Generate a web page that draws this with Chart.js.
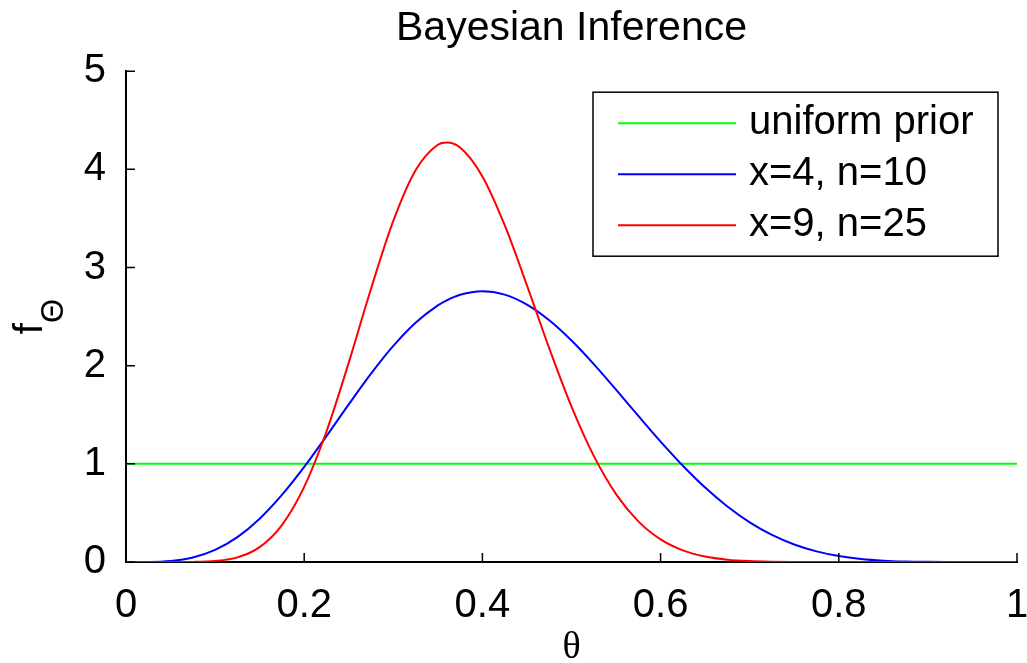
<!DOCTYPE html>
<html lang="en">
<head>
  <meta charset="UTF-8">
  <title>Bayesian Inference</title>
  <script src="https://cdn.jsdelivr.net/npm/chart.js"></script>
  <style>
    body { margin: 0; background: #fff; }
    canvas { display: block; }
  </style>
</head>
<body>
  <canvas id="grafico" width="1027" height="663"></canvas>

  <script>
    // valores
    const theta = [0, 0.025, 0.05, 0.075, 0.1, 0.125, 0.15, 0.175, 0.2, 0.225, 0.25, 0.275, 0.3, 0.325, 0.35, 0.36,
                   0.375, 0.4, 0.425, 0.45, 0.475, 0.5, 0.525, 0.55, 0.575, 0.6, 0.625, 0.65, 0.675, 0.7, 0.725,
                   0.75, 0.775, 0.8, 0.825, 0.85, 0.875, 0.9, 0.925, 0.95, 0.975, 1];
    // x=4, n=10
    const posterior1 = [0, 0.0008, 0.0106, 0.0458, 0.1228, 0.2531, 0.4411, 0.6831, 0.9689, 1.2828, 1.6060, 1.9185,
                        2.2013, 2.4376, 2.6144, 2.6663, 2.7228, 2.7590, 2.7238, 2.6220, 2.4623, 2.2559, 2.0156, 1.7552,
                        1.4881, 1.2262, 0.9802, 0.7580, 0.5651, 0.4043, 0.2760, 0.1784, 0.1081, 0.0606, 0.0307,
                        0.0137, 0.0052, 0.0015, 0.0003, 0, 0, 0];
    // x=9, n=25
    const posterior2 = [0, 0, 0, 0.0011, 0.0098, 0.0467, 0.1516, 0.3766, 0.7655, 1.3296, 2.0309, 2.7838, 3.4745,
                        3.9907, 4.2507, 4.2740, 4.2228, 3.9282, 3.4310, 2.8181, 2.1779, 1.5830, 1.0809, 0.6917,
                        0.4135, 0.2299, 0.1182, 0.0558, 0.0239, 0.0092, 0.0031, 0.0009, 0.0002, 0, 0, 0, 0, 0, 0,
                        0, 0, 0];
    const thetaPrior = [0, 1];
    const prior = [1, 1];

    const etiquetas = ['uniform prior', 'x=4, n=10', 'x=9, n=25'];
    const colores = ['#00ff00', '#0000ff', '#ff0000'];
    const ticksX = [0, 0.2, 0.4, 0.6, 0.8, 1];
    const textosX = ['0', '0.2', '0.4', '0.6', '0.8', '1'];
    const ticksY = [0, 1, 2, 3, 4, 5];
    const textosY = ['0', '1', '2', '3', '4', '5'];

    const fuente = '"Liberation Sans", Arial, Helvetica, sans-serif';

    function puntos(xs, ys) {
      return xs.map((x, i) => ({ x: x, y: ys[i] }));
    }

    // marcas de los ejes hacia dentro (estilo matlab)
    const marcas = {
      id: 'marcas',
      afterDraw(chart) {
        const ctx = chart.ctx;
        const a = chart.chartArea;
        const sx = chart.scales.x, sy = chart.scales.y;
        ctx.save();
        ctx.strokeStyle = '#000';
        ctx.lineWidth = 1.5;
        ctx.beginPath();
        ticksX.forEach(v => {
          const px = sx.getPixelForValue(v);
          ctx.moveTo(px, a.bottom);
          ctx.lineTo(px, a.bottom - 9);
        });
        ticksY.forEach(v => {
          const py = sy.getPixelForValue(v);
          ctx.moveTo(a.left, py);
          ctx.lineTo(a.left + 9, py);
        });
        ctx.stroke();
        ctx.restore();
      }
    };

    // leyenda con recuadro
    const leyenda = {
      id: 'leyenda',
      afterDraw(chart) {
        const ctx = chart.ctx;
        const a = chart.chartArea;
        const ancho = 405, alto = 164;
        const x0 = a.right - 19 - ancho;
        const y0 = a.top + 21;
        ctx.save();
        ctx.fillStyle = '#fff';
        ctx.fillRect(x0, y0, ancho, alto);
        ctx.strokeStyle = '#000';
        ctx.lineWidth = 1.5;
        ctx.strokeRect(x0, y0, ancho, alto);
        ctx.font = '40px ' + fuente;
        ctx.textBaseline = 'middle';
        ctx.textAlign = 'left';
        chart.data.datasets.forEach((ds, i) => {
          const y = y0 + 31 + i * 51;
          ctx.strokeStyle = ds.borderColor;
          ctx.lineWidth = 2;
          ctx.beginPath();
          ctx.moveTo(x0 + 25, y);
          ctx.lineTo(x0 + 143, y);
          ctx.stroke();
          ctx.fillStyle = '#000';
          ctx.fillText(ds.label, x0 + 156, y);
        });
        ctx.restore();
      }
    };

    // titulo del eje y: f con subindice theta mayuscula
    const etiquetaY = {
      id: 'etiquetaY',
      afterDraw(chart) {
        const ctx = chart.ctx;
        const a = chart.chartArea;
        ctx.save();
        ctx.fillStyle = '#000';
        ctx.textBaseline = 'alphabetic';
        ctx.textAlign = 'left';
        ctx.font = '40px ' + fuente;
        const wf = ctx.measureText('f').width;
        ctx.font = '31px ' + fuente;
        const ws = ctx.measureText('Θ').width;
        const centro = (a.top + a.bottom) / 2;
        ctx.translate(42, centro + (wf + ws) / 2);
        ctx.rotate(-Math.PI / 2);
        ctx.font = '40px ' + fuente;
        ctx.fillText('f', 0, 0);
        ctx.font = '31px ' + fuente;
        ctx.fillText('Θ', wf, 21);
        ctx.restore();
      }
    };

    const comun = { borderWidth: 2, pointRadius: 0, fill: false, cubicInterpolationMode: 'monotone' };

    const ctx = document.getElementById('grafico').getContext('2d');
    new Chart(ctx, {
      type: 'line',
      data: {
        datasets: [
          Object.assign({ label: etiquetas[0], data: puntos(thetaPrior, prior), borderColor: colores[0], order: 2 }, comun),
          Object.assign({ label: etiquetas[1], data: puntos(theta, posterior1), borderColor: colores[1], order: 1 }, comun),
          Object.assign({ label: etiquetas[2], data: puntos(theta, posterior2), borderColor: colores[2], order: 0 }, comun)
        ]
      },
      options: {
        responsive: false,
        animation: false,
        layout: { padding: { top: 0, right: 10, bottom: 0, left: 0 } },
        plugins: {
          legend: { display: false },
          tooltip: { enabled: false },
          title: {
            display: true,
            text: 'Bayesian Inference',
            color: '#000',
            fullSize: false,
            font: { family: fuente, size: 41, weight: 'normal', lineHeight: 1.2 },
            padding: { top: 4, bottom: 18 }
          }
        },
        scales: {
          x: {
            type: 'linear',
            min: 0,
            max: 1,
            afterBuildTicks: s => { s.ticks = ticksX.map(v => ({ value: v })); },
            afterFit: s => { s.height = 101; s.paddingRight = 0; },
            grid: { display: false },
            border: { display: true, color: '#000', width: 2 },
            ticks: {
              color: '#000', padding: 12, maxRotation: 0, autoSkip: false,
              font: { family: fuente, size: 40 },
              callback: (v, i) => textosX[i]
            },
            title: {
              display: true,
              text: 'θ',
              color: '#000',
              font: { family: '"Liberation Serif", "Times New Roman", serif', size: 38, lineHeight: 0.8 },
              padding: { top: 1, bottom: 0 }
            }
          },
          y: {
            type: 'linear',
            min: 0,
            max: 5,
            afterBuildTicks: s => { s.ticks = ticksY.map(v => ({ value: v })); },
            afterFit: s => { s.width = 126; },
            grid: { display: false },
            border: { display: true, color: '#000', width: 2 },
            ticks: {
              color: '#000', padding: 12,
              font: { family: fuente, size: 40 },
              callback: (v, i) => textosY[i]
            }
          }
        }
      },
      plugins: [marcas, leyenda, etiquetaY]
    });
  </script>
</body>
</html>
